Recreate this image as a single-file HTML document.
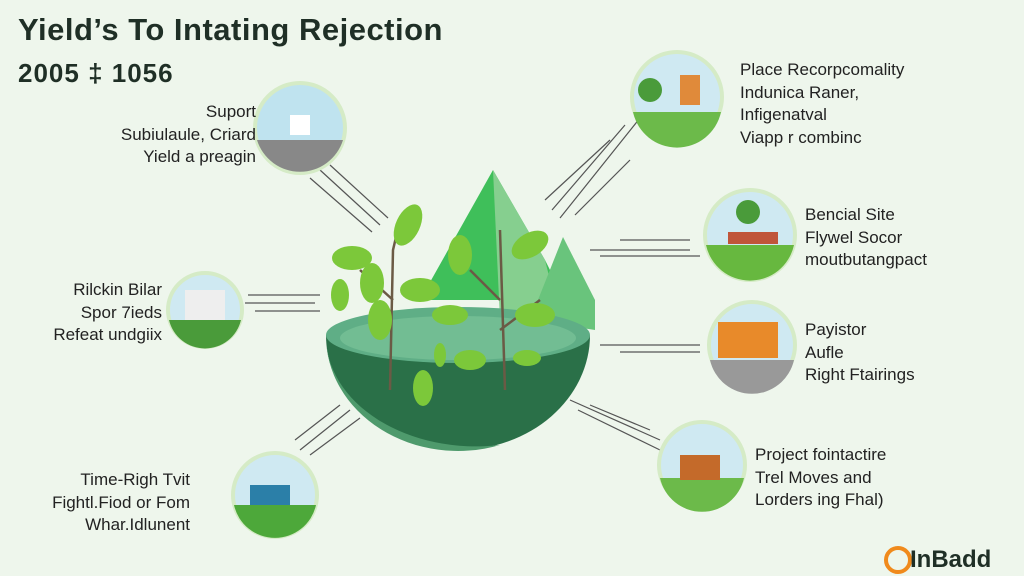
<!DOCTYPE html>
<html><head><meta charset="utf-8"><style>
body{margin:0;width:1024px;height:576px;overflow:hidden;background:#eef6ec;font-family:"Liberation Sans",sans-serif;position:relative}
.t{position:absolute;color:#222;font-size:17px;line-height:22.5px;white-space:nowrap}
.r{text-align:right}
</style></head><body>
<svg width="1024" height="576" style="position:absolute;left:0;top:0">
<rect width="1024" height="576" fill="#eef6ec"/>
<g stroke="#555" stroke-width="1.2">
<line x1="320" y1="170" x2="380" y2="225"/><line x1="330" y1="165" x2="388" y2="218"/><line x1="310" y1="178" x2="372" y2="232"/>
<line x1="545" y1="200" x2="610" y2="140"/><line x1="552" y1="210" x2="625" y2="125"/><line x1="560" y1="218" x2="640" y2="118"/><line x1="575" y1="215" x2="630" y2="160"/>
<line x1="590" y1="250" x2="690" y2="250"/><line x1="600" y1="256" x2="700" y2="256"/><line x1="620" y1="240" x2="690" y2="240"/>
<line x1="600" y1="345" x2="700" y2="345"/><line x1="620" y1="352" x2="700" y2="352"/>
<line x1="570" y1="400" x2="660" y2="440"/><line x1="578" y1="410" x2="660" y2="450"/><line x1="590" y1="405" x2="650" y2="430"/>
<line x1="248" y1="295" x2="320" y2="295"/><line x1="245" y1="303" x2="315" y2="303"/><line x1="255" y1="311" x2="320" y2="311"/>
<line x1="300" y1="450" x2="350" y2="410"/><line x1="310" y1="455" x2="360" y2="418"/><line x1="295" y1="440" x2="340" y2="405"/>
</g>
<polygon points="420,300 493,170 545,260 565,300" fill="#3fbf5a"/>
<polygon points="493,170 545,260 560,320 500,320" fill="#86cf8f"/>
<polygon points="530,320 563,237 595,300 595,330" fill="#69c47c"/>
<path d="M326,335 A132,115 0 0 0 590,335 Z" fill="#2a7048"/>
<path d="M326,335 A132,115 0 0 0 500,445 A150,110 0 0 1 326,335Z" fill="#4e9a6c"/>
<ellipse cx="458" cy="335" rx="132" ry="28" fill="#5fae86"/>
<ellipse cx="458" cy="338" rx="118" ry="22" fill="#72bd93"/>
<g stroke="#6b5a45" stroke-width="2.5" fill="none">
<path d="M390,390 L393,250 L400,220"/><path d="M393,300 L360,270"/><path d="M505,390 L500,230"/><path d="M500,300 L470,270"/><path d="M500,330 L540,300"/>
</g>
<g fill="#7cc83a">
<ellipse cx="408" cy="225" rx="12" ry="22" transform="rotate(25 408 225)"/><ellipse cx="352" cy="258" rx="20" ry="12"/><ellipse cx="372" cy="283" rx="12" ry="20"/><ellipse cx="420" cy="290" rx="20" ry="12"/>
<ellipse cx="340" cy="295" rx="9" ry="16"/><ellipse cx="380" cy="320" rx="12" ry="20"/><ellipse cx="423" cy="388" rx="10" ry="18"/>
<ellipse cx="460" cy="255" rx="12" ry="20"/><ellipse cx="530" cy="245" rx="20" ry="12" transform="rotate(-30 530 245)"/><ellipse cx="535" cy="315" rx="20" ry="12"/>
<ellipse cx="450" cy="315" rx="18" ry="10"/><ellipse cx="470" cy="360" rx="16" ry="10"/><ellipse cx="527" cy="358" rx="14" ry="8"/><ellipse cx="440" cy="355" rx="6" ry="12"/>
</g>
<g stroke="#d5ebc6" stroke-width="4">
<circle cx="300" cy="128" r="45" fill="#bfe3ef"/><circle cx="205" cy="310" r="37" fill="#cfe9f2"/><circle cx="275" cy="495" r="42" fill="#cfe9f2"/>
<circle cx="677" cy="97" r="45" fill="#cfe9f2"/><circle cx="750" cy="235" r="45" fill="#cfe9f2"/><circle cx="752" cy="345" r="43" fill="#cfe9f2"/><circle cx="702" cy="465" r="43" fill="#cfe9f2"/>
</g>
<path d="M257,140 L343,140 A45,45 0 0 1 257,140Z" fill="#888"/><rect x="290" y="115" width="20" height="20" fill="#fff"/>
<path d="M169,320 L241,320 A37,37 0 0 1 169,320Z" fill="#4a9b3a"/><rect x="185" y="290" width="40" height="30" fill="#eee"/>
<path d="M234,505 L316,505 A42,42 0 0 1 234,505Z" fill="#4da83a"/><rect x="250" y="485" width="40" height="20" fill="#2b7fa8"/>
<path d="M633,112 L721,112 A45,45 0 0 1 633,112Z" fill="#6cba4a"/><rect x="680" y="75" width="20" height="30" fill="#e08a3a"/><circle cx="650" cy="90" r="12" fill="#4a9b3a"/>
<path d="M706,245 L794,245 A45,45 0 0 1 706,245Z" fill="#67b83f"/><rect x="728" y="232" width="50" height="12" fill="#c0553a"/><circle cx="748" cy="212" r="12" fill="#4a9b3a"/>
<path d="M710,360 L794,360 A43,43 0 0 1 710,360Z" fill="#999"/><rect x="718" y="322" width="60" height="36" fill="#e88a2a"/>
<path d="M660,478 L744,478 A43,43 0 0 1 660,478Z" fill="#6cba4a"/><rect x="680" y="455" width="40" height="25" fill="#c46a2a"/>
<circle cx="898" cy="560" r="12" fill="none" stroke="#f08a1c" stroke-width="4"/>
</svg>
<div style="position:absolute;left:18px;top:12px;font-size:31px;font-weight:bold;color:#1f2f26;letter-spacing:0.5px">Yield’s To Intating Rejection</div>
<div style="position:absolute;left:18px;top:58px;font-size:26px;font-weight:bold;color:#1f2f26;letter-spacing:1px">2005 ‡ 1056</div>
<div class="t r" style="right:768px;top:101px">Suport<br>Subiulaule, Criard<br>Yield a preagin</div>
<div class="t r" style="right:862px;top:279px">Rilckin Bilar<br>Spor 7ieds<br>Refeat undgiix</div>
<div class="t r" style="right:834px;top:469px">Time-Righ Tvit<br>Fightl.Fiod or Fom<br>Whar.Idlunent</div>
<div class="t" style="left:740px;top:59px">Place Recorpcomality<br>Indunica Raner,<br>Infigenatval<br>Viapp r combinc</div>
<div class="t" style="left:805px;top:204px">Bencial Site<br>Flywel Socor<br>moutbutangpact</div>
<div class="t" style="left:805px;top:319px">Payistor<br>Aufle<br>Right Ftairings</div>
<div class="t" style="left:755px;top:444px">Project fointactire<br>Trel Moves and<br>Lorders ing Fhal)</div>
<div style="position:absolute;left:910px;top:546px;font-size:24px;font-weight:bold;color:#1f2f26">InBadd</div>
</body></html>
